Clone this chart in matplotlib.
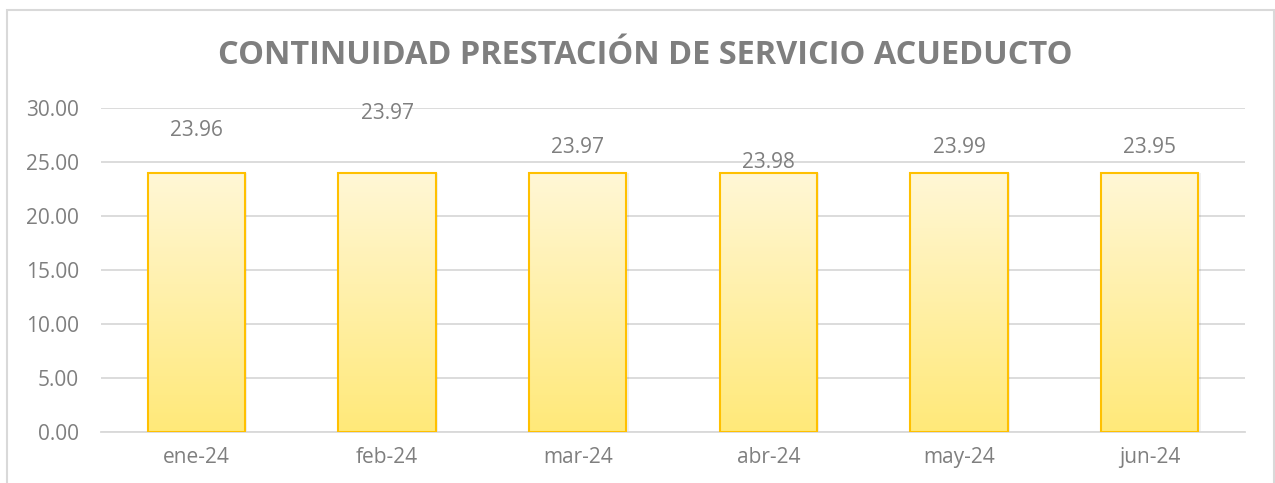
import matplotlib
matplotlib.use("Agg")
import matplotlib.pyplot as plt
import numpy as np
from matplotlib.patches import Rectangle
from matplotlib.colors import LinearSegmentedColormap

categories = ["ene-24", "feb-24", "mar-24", "abr-24", "may-24", "jun-24"]
values = [23.96, 23.97, 23.97, 23.98, 23.99, 23.95]
label_y = [27.96, 29.5, 26.3, 25.0, 26.3, 26.3]  # label placement as in reference
title = "CONTINUIDAD PRESTACIÓN DE SERVICIO ACUEDUCTO"
yticks = [0, 5, 10, 15, 20, 25, 30]

plt.rcParams['font.family'] = ['Open Sans', 'DejaVu Sans']
txt = "#7f7f7f"

fig = plt.figure(figsize=(12.75, 4.83), dpi=100)
W, H = 1275, 483
ax = fig.add_axes([101 / W, 1 - 432 / H, (1245 - 101) / W, (432 - 108) / H])

x = np.arange(len(categories))
bw = 0.51
bars = ax.bar(x, values, width=bw, color="none", edgecolor="#FFC000", linewidth=1.5, zorder=3)
cmap = LinearSegmentedColormap.from_list("g", ["#FFE979", "#FFF7D6"])
grad = np.linspace(0, 1, 256).reshape(-1, 1)
for b in bars:
    x0, w, h = b.get_x(), b.get_width(), b.get_height()
    ax.add_patch(Rectangle((x0 + 0.012, 0), w, h, facecolor="#000000", alpha=0.06,
                           edgecolor="none", zorder=2))
    im = ax.imshow(grad, cmap=cmap, origin="lower", aspect="auto",
                   extent=[x0, x0 + w, 0, h], zorder=2.5)
    clip = Rectangle((x0, 0), w, h, transform=ax.transData)
    im.set_clip_path(clip)

for xi, v, ly in zip(x, values, label_y):
    ax.text(xi, ly, f"{v:.2f}", ha="center", va="center", fontsize=15, color=txt, zorder=4)

ax.set_xlim(-0.5, len(categories) - 0.5)
ax.set_ylim(0, 30)
ax.set_yticks(yticks)
ax.set_yticklabels([f"{t:.2f}" for t in yticks])
ax.set_xticks(x)
ax.set_xticklabels(categories)
ax.tick_params(axis="both", length=0, labelsize=15, labelcolor=txt)
ax.tick_params(axis="y", pad=16)
ax.tick_params(axis="x", pad=11)
ax.grid(axis="y", color="#d9d9d9", linewidth=1.3, zorder=0)
ax.set_axisbelow(True)
for s in ["top", "right", "left"]:
    ax.spines[s].set_visible(False)
ax.spines["bottom"].set_color("#d9d9d9")
ax.spines["bottom"].set_linewidth(1.3)

fig.text(645 / W, 1 - 55 / H, title, ha="center", va="center", fontsize=23.4,
         fontweight="bold", color="#7f7f7f")

fig.add_artist(Rectangle((7 / W, -0.1), (1274 - 7) / W, (1 - 10 / H) + 0.1,
                         transform=fig.transFigure, fill=False, edgecolor="#d9d9d9",
                         linewidth=1.5))

fig.savefig("out.png", dpi=100)
